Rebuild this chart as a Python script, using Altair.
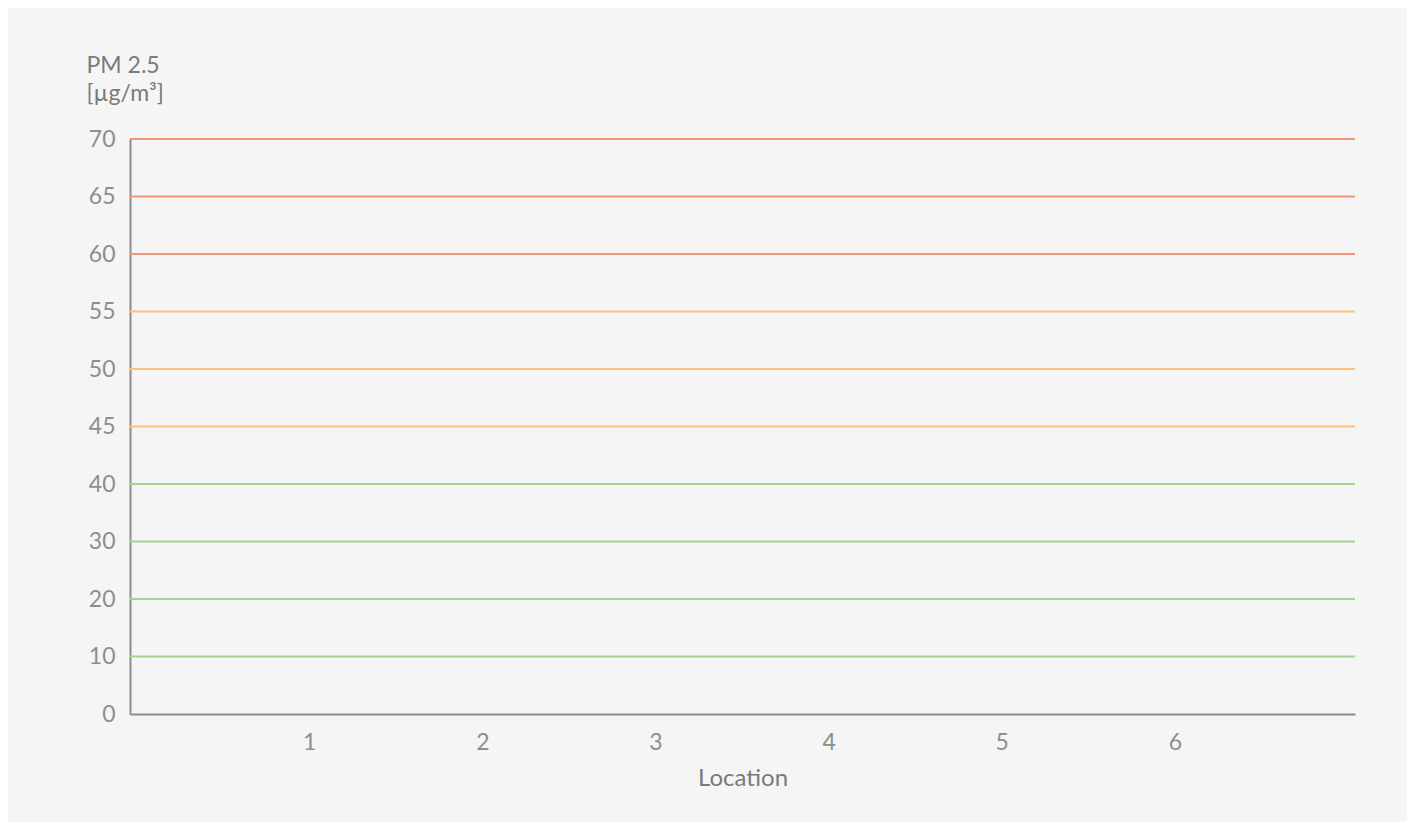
import altair as alt
import pandas as pd

# Data
levels = ["70", "65", "60", "55", "50", "45", "40", "30", "20", "10", "0"]
grid_levels = ["70", "65", "60", "55", "50", "45", "40", "30", "20", "10"]
grid_band = ["high", "high", "high", "mid", "mid", "mid", "low", "low", "low", "low"]
band_names = ["low", "mid", "high"]
band_colors = ["#a3d38f", "#fdc27b", "#f2937a"]
locations = [1, 2, 3, 4, 5, 6]

grid_df = pd.DataFrame({"level": grid_levels, "band": grid_band})
loc_df = pd.DataFrame({"location": locations})

FONT = "Lato"
LABEL_COLOR = "#8e8e8e"
TITLE_COLOR = "#7a7a7a"
AXIS_COLOR = "#8c8c8c"

grid = alt.Chart(grid_df).mark_rule(strokeWidth=2).encode(
    y=alt.Y(
        "level:N",
        scale=alt.Scale(type="point", domain=levels, padding=0),
        axis=alt.Axis(
            title=["PM 2.5", "[µg/m³]"],
            titleAngle=0,
            titleAlign="left",
            titleBaseline="alphabetic",
            titleX=-44,
            titleY=-67,
            titleFontSize=23,
            titleFontWeight="normal",
            titleColor=TITLE_COLOR,
            titleFont=FONT,
            titleLineHeight=28,
            labelFontSize=23,
            labelColor=LABEL_COLOR,
            labelFont=FONT,
            labelPadding=15,
            ticks=False,
            grid=False,
            domainColor=AXIS_COLOR,
            domainWidth=2,
        ),
    ),
    color=alt.Color(
        "band:N",
        scale=alt.Scale(domain=band_names, range=band_colors),
        legend=None,
    ),
)

xaxis = alt.Chart(loc_df).mark_point(opacity=0).encode(
    x=alt.X(
        "location:Q",
        scale=alt.Scale(domain=[-0.035, 7.04], nice=False, zero=False),
        axis=alt.Axis(
            title="Location",
            values=locations,
            format="d",
            titleFontSize=24,
            titleFontWeight="normal",
            titleColor=TITLE_COLOR,
            titleFont=FONT,
            titlePadding=12,
            labelFontSize=23,
            labelColor=LABEL_COLOR,
            labelFont=FONT,
            labelPadding=17,
            ticks=False,
            grid=False,
            domainColor=AXIS_COLOR,
            domainWidth=2,
        ),
    ),
    y=alt.value(575),
)

chart = (
    alt.layer(grid, xaxis)
    .properties(
        width=1225,
        height=575,
        background="#f5f5f5",
        padding={"left": 122, "top": 131, "right": 52, "bottom": 108},
        autosize=alt.AutoSizeParams(type="none"),
    )
    .configure_view(stroke=None)
)

chart.save("out.html", embed_options={"renderer": "svg", "actions": False})
